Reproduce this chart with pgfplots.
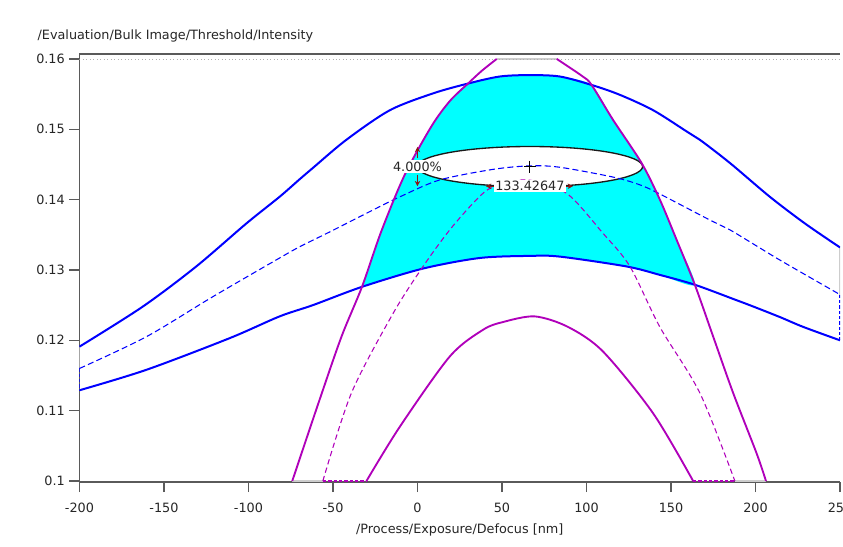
\documentclass[border=0pt]{standalone}
\usepackage{fontspec}
\setmainfont{DejaVu Sans}
\usepackage{pgfplots}
\pgfplotsset{compat=1.18}
\usetikzlibrary{arrows.meta}
\definecolor{myblue}{RGB}{0,0,255}
\definecolor{mymag}{RGB}{176,0,186}
\definecolor{mycyan}{RGB}{0,255,255}
\definecolor{closegray}{RGB}{205,205,205}
\definecolor{axisgray}{RGB}{90,90,90}
\definecolor{arrowred}{RGB}{140,20,20}
\newcommand{\chartfont}{\fontsize{9.6}{11}\selectfont}
\begin{document}
\begin{tikzpicture}
\begin{axis}[
  width=570.4pt, height=321pt, scale only axis,
  xmin=-200, xmax=250, ymin=0.09986, ymax=0.1607,
  axis lines*=left, axis line style={-, axisgray, line width=1pt},
  tick pos=left, tick align=outside, major tick length=7.5pt,
  tick style={axisgray, line width=1pt},
  xtick={-200,-150,-100,-50,0,50,100,150,200,250},
  ytick={0.1,0.11,0.12,0.13,0.14,0.15,0.16},
  scaled y ticks=false,
  yticklabel style={/pgf/number format/fixed, /pgf/number format/precision=2},
  xticklabel style={yshift=-4.5pt},
  /pgf/number format/assume math mode=true,
  ticklabel style={font=\chartfont, text=black!85},
  xlabel={/Process/Exposure/Defocus [nm]},
  xlabel style={font=\chartfont, text=black!85, at={(axis description cs:0.5,0)}, anchor=center, yshift=-36pt},
  clip=true,
]
\coordinate (bbsw) at (rel axis cs:0,0);
\coordinate (bbne) at (rel axis cs:1,1);
% cyan process window
\addplot[fill=mycyan, draw=none, smooth, tension=0.4] coordinates {
 (-32.85,0.1276) (-21.4,0.1355) (-7.6,0.1435) (8.2,0.1504) (19.1,0.1540) (29.9,0.1565)
 (48.7,0.1575) (66.4,0.1577) (84.2,0.1575) (103,0.1563)
 (115.8,0.1513) (132.6,0.1452) (143.4,0.1400) (153.3,0.1343) (164.1,0.1279)
 (143.4,0.1293) (123.7,0.1305) (84.2,0.1319) (66.4,0.1320) (36.8,0.1317) (3.3,0.1302)
} -- cycle;
% ellipse
\draw[black!90, line width=1pt, fill=white] (axis cs:66.5,0.1447) ellipse [x radius=66.7, y radius=0.00285];
% grey closing lines
\addplot[closegray, line width=1.5pt] coordinates {(-200,0.1191) (-200,0.1160)};
\addplot[closegray, line width=1.5pt] coordinates {(250,0.1332) (250,0.1265)};
\addplot[closegray, line width=1.5pt] coordinates {(-74.1,0.1) (-56,0.1)};
\addplot[closegray, line width=1.5pt] coordinates {(187.8,0.1) (206.2,0.1)};
\addplot[closegray, line width=1.5pt] coordinates {(46.9,0.16) (82.4,0.16)};
% dotted top grid
\addplot[black!30, dotted, line width=0.6pt] coordinates {(-200,0.16) (250,0.16)};
% blue upper
\addplot[myblue, line width=1.5pt, smooth, tension=0.5] coordinates {
 (-200,0.1191) (-162.5,0.1248) (-130.9,0.1305) (-101.3,0.1366) (-81.6,0.1404) (-69.7,0.1429)
 (-61.9,0.1445) (-42.1,0.1485) (-16.4,0.1527) (9.2,0.1551) (29.9,0.1565) (48.7,0.1575)
 (66.4,0.1577) (84.2,0.1575) (103,0.1563) (119.7,0.1549) (139.5,0.1527) (159.2,0.1497)
 (167.1,0.1485) (184.9,0.1452) (208.5,0.1404) (229.3,0.1366) (250,0.1332)};
% blue lower
\addplot[myblue, line width=1.5pt, smooth, tension=0.5] coordinates {
 (-200,0.1129) (-160.5,0.1158) (-111.2,0.1203) (-81.6,0.1234) (-61.9,0.1250) (-32.85,0.1276)
 (3.3,0.1302) (36.8,0.1317) (66.4,0.1320) (84.2,0.1319) (123.7,0.1305) (143.4,0.1293)
 (164.1,0.1279) (188.8,0.1257) (198.7,0.1248) (214.5,0.1233) (228.3,0.1219) (250,0.1200)};
% blue dashed
\addplot[myblue, line width=0.8pt, dash pattern=on 4.5pt off 2.5pt, smooth, tension=0.5] coordinates {
 (-200,0.1160) (-160.5,0.1205) (-121.1,0.1262) (-81.6,0.1317) (-69.7,0.1333)
 (-52.0,0.1354) (-22.4,0.1390) (-9.5,0.1405) (13.2,0.1428) (44.7,0.1443) (66.4,0.1448)
 (84.2,0.1446) (115.8,0.1432) (131.6,0.1421) (143.4,0.1408) (173.0,0.1371) (184.9,0.1357)
 (214.5,0.1314) (250,0.1265)};
\addplot[myblue, line width=0.8pt, dash pattern=on 2.5pt off 1.5pt] coordinates {(-200,0.1160) (-200,0.1129)};
\addplot[myblue, line width=0.8pt, dash pattern=on 2.5pt off 1.5pt] coordinates {(250,0.1265) (250,0.1200)};
% magenta outer
\addplot[mymag, line width=1.4pt, smooth, tension=0.5] coordinates {
 (-74.1,0.1) (-58,0.1115) (-45,0.1205) (-32.85,0.1276) (-21.4,0.1355) (-7.6,0.1435)
 (8.2,0.1504) (19.1,0.1540) (29.9,0.1565) (38,0.1583) (46.9,0.16)};
\addplot[mymag, line width=1.4pt, smooth, tension=0.5] coordinates {
 (82.4,0.16) (97.8,0.1575) (103,0.1563) (115.8,0.1513) (132.6,0.1452) (143.4,0.1400)
 (153.3,0.1343) (164.1,0.1279) (175,0.1205) (186.8,0.1125) (200.7,0.1039) (206.2,0.1)};
% magenta inner
\addplot[mymag, line width=1.4pt, smooth, tension=0.5] coordinates {
 (-30.2,0.1) (-10.5,0.1077) (19.1,0.1177) (38.8,0.1215) (50.6,0.1226) (69.4,0.1234)
 (89.1,0.1219) (109.8,0.1184) (139.5,0.1096) (163.1,0.1)};
% magenta dashed
\addplot[mymag, line width=0.8pt, dash pattern=on 4pt off 2.5pt, smooth, tension=0.5] coordinates {
 (-56,0.1) (-39.1,0.1125) (-14.5,0.1238) (3.3,0.1305) (19.1,0.1357) (34.9,0.1400)
 (44.7,0.1418) (65,0.1428) (88.2,0.1409) (109.8,0.1352) (125.7,0.1305) (143.4,0.1219)
 (167.1,0.1125) (187.8,0.1)};
\addplot[mymag, line width=1.2pt, dash pattern=on 2.5pt off 1.5pt] coordinates {(-56,0.1) (-30.2,0.1)};
\addplot[mymag, line width=1.2pt, dash pattern=on 2.5pt off 1.5pt] coordinates {(163.1,0.1) (187.8,0.1)};
% centre marker
\addplot[only marks, mark=+, black, mark size=4.5pt, mark options={line width=0.9pt}] coordinates {(66.5,0.1447)};
% annotations
\draw[arrowred, line width=0.9pt, -{Stealth[length=4pt,width=4pt]}] (axis cs:0,0.1459) -- (axis cs:0,0.1475);
\draw[arrowred, line width=0.9pt, -{Stealth[length=4pt,width=4pt]}] (axis cs:0,0.1435) -- (axis cs:0,0.1419);
\draw[arrowred, line width=0.9pt, -{Stealth[length=4pt,width=4pt]}] (axis cs:45,0.1419) -- (axis cs:40.5,0.1419);
\draw[arrowred, line width=0.9pt, -{Stealth[length=4pt,width=4pt]}] (axis cs:87.5,0.1419) -- (axis cs:92,0.1419);
\node[fill=white, inner sep=1pt, font=\chartfont, text=black!85] at (axis cs:0,0.1447) {4.000\%};
\node[fill=white, inner sep=1pt, font=\chartfont, text=black!85] at (axis cs:66.5,0.1419) {133.42647};
\end{axis}
\draw[axisgray, line width=1pt] (bbsw |- bbne) -- (bbne);
\node[anchor=west, font=\chartfont, text=black!85] at ([xshift=-34.9pt, yshift=13.5pt]bbsw |- bbne) {/Evaluation/Bulk Image/Threshold/Intensity};
\pgfresetboundingbox
\path[use as bounding box] ([xshift=-59.6pt,yshift=-48pt]bbsw) rectangle ([xshift=2.25pt,yshift=40.5pt]bbne);
\end{tikzpicture}
\end{document}
